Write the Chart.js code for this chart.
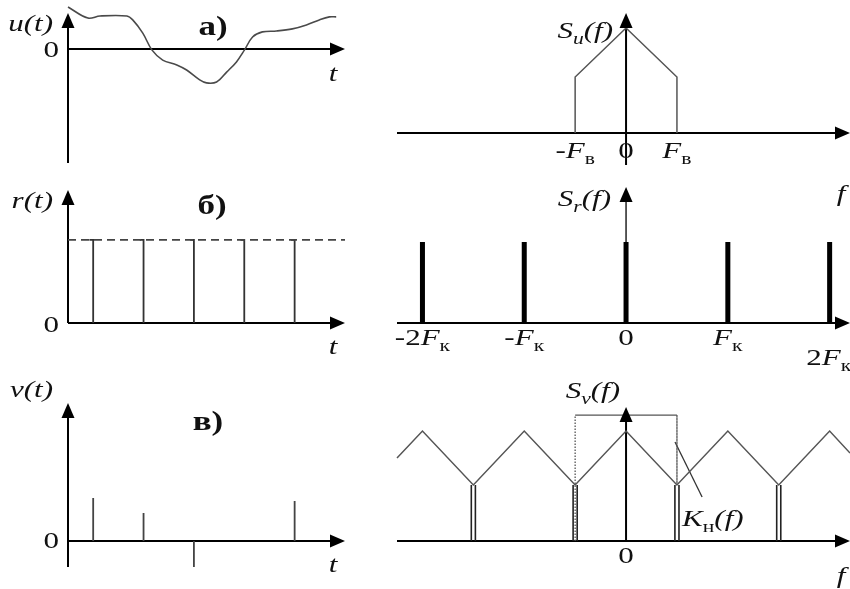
<!DOCTYPE html>
<html><head><meta charset="utf-8">
<script src="https://cdn.jsdelivr.net/npm/chart.js@4.4.0/dist/chart.umd.min.js"></script>
<style>
html,body{margin:0;padding:0;background:#fff;}
#wrap{position:relative;width:850px;height:589px;overflow:hidden;background:#fff;}
#wrap canvas{position:absolute;left:0;top:0;}
</style></head><body>
<div id="wrap">
<canvas id="cA" width="850" height="589"></canvas>
<canvas id="cB" width="850" height="589"></canvas>
<canvas id="cC" width="850" height="589"></canvas>
<canvas id="cD" width="850" height="589"></canvas>
<canvas id="cE" width="850" height="589"></canvas>
<canvas id="cF" width="850" height="589"></canvas>
</div>
<script>
// ---------------- DATA ----------------
// а) message u(t)
const uT   = [0, 0.79, 1.27, 2.34, 2.57, 2.97, 3.33, 3.76, 4.32, 4.71, 5.23, 5.50, 5.90, 6.30, 6.69, 7.01, 7.33, 7.72, 8.28, 8.91, 9.47, 9.98, 10.38, 10.65];
const uVal = [1.40, 1.03, 1.10, 1.10, 0.97, 0.53, -0.03, -0.37, -0.53, -0.70, -1.03, -1.13, -1.10, -0.77, -0.43, -0.03, 0.40, 0.57, 0.60, 0.67, 0.80, 0.97, 1.07, 1.07];
// spectrum S_u(f), frequency in units of F_к
const suF   = [-0.5, -0.5, 0, 0.5, 0.5];
const suVal = [0, 0.533, 1, 0.533, 0];
const suTickF = [-0.5, 0, 0.5];
const suTickLabels = ['-F_{в}', '0', 'F_{в}'];
// б) sampling pulses r(t)
const rT   = [1, 3, 5, 7, 9];
const rVal = [1, 1, 1, 1, 1];
const rLevel = 1;
const rWidth = 0.15;
// spectrum S_r(f)
const srF   = [-2, -1, 0, 1, 2];
const srVal = [1, 1, 1, 1, 1];
const srTickF = [-2, -1, 0, 1];
const srTickLabels = ['-2F_{к}', '-F_{к}', '0', 'F_{к}'];
// в) samples v(t)
const vT   = [1, 3, 5, 9];
const vVal = [4.3, 2.8, -2.6, 4.0];
// spectrum S_v(f)
const svF   = [-2.25, -2, -1.5, -1, -0.5, 0, 0.5, 1, 1.5, 2, 2.2];
const svVal = [0.755, 1, 0.51, 1, 0.51, 1, 0.51, 1, 0.51, 1, 0.80];
const svLineF   = [-1.5, -0.5, 0.5, 1.5];
const svLineVal = [0.51, 0.51, 0.51, 0.51];
const svLineGap = 0.02;
// filter K_н(f)
const knF   = [-0.5, -0.5, 0.5, 0.5];
const knVal = [0, 1.145, 1.145, 0.51];
const knPointerF   = [0.481, 0.747];
const knPointerVal = [0.90, 0.40];

const tAxis = [0, 11];
const fAxis = [-2.25, 2.2];

// ---------------- HELPERS ----------------
const pts = (xs, ys) => xs.map((x, i) => ({x, y: ys[i]}));
function stems(xs, ys, base, dx) {
  const out = [];
  xs.forEach((x, i) => { out.push({x: x + (dx||0), y: base}, {x: x + (dx||0), y: ys[i]}, {x: x + (dx||0), y: null}); });
  return out;
}
function pulses(xs, ys, w) {
  const out = [];
  xs.forEach((x, i) => { out.push({x: x - w, y: ys[i]}, {x, y: ys[i]}, {x, y: 0}, {x, y: null}); });
  return out;
}
const SERIF = '"Liberation Serif","Times New Roman",serif';
const STRETCH = 1.35;
function runs(spec) {
  const segs = []; let i = 0;
  while (i < spec.length) {
    if (spec[i] === '_' && spec[i+1] === '{') {
      const j = spec.indexOf('}', i);
      for (const ch of spec.slice(i+2, j)) segs.push({ch, sub: true});
      i = j + 1;
    } else { segs.push({ch: spec[i], sub: false}); i++; }
  }
  return segs;
}
function drawRich(ctx, spec, x, y, align, size, bold, stretch) {
  const sx = stretch || STRETCH;
  const segs = runs(spec);
  const fontFor = s => {
    const latin = /[A-Za-z()]/.test(s.ch);
    const sz = s.sub ? Math.round(size * 0.68) : size;
    if (bold) return `bold ${sz}px ${SERIF}`;
    return `${latin ? 'italic ' : ''}${sz}px ${SERIF}`;
  };
  let w = 0;
  segs.forEach(s => { ctx.font = fontFor(s); s.w = ctx.measureText(s.ch).width * sx; w += s.w; });
  let cx = align === 'right' ? x - w : align === 'center' ? x - w / 2 : x;
  ctx.fillStyle = '#111';
  ctx.textBaseline = 'alphabetic';
  ctx.textAlign = 'left';
  segs.forEach(s => {
    ctx.font = fontFor(s);
    ctx.save();
    ctx.translate(cx, y + (s.sub ? size * 0.25 : 0));
    ctx.scale(sx, 1);
    ctx.fillText(s.ch, 0, 0);
    ctx.restore();
    cx += s.w;
  });
}
function arrow(ctx, x, y, dir) {
  const L = 15, H = 6.5;
  ctx.beginPath();
  if (dir === 'right') { ctx.moveTo(x, y); ctx.lineTo(x - L, y - H); ctx.lineTo(x - L, y + H); }
  else { ctx.moveTo(x, y); ctx.lineTo(x - H, y + L); ctx.lineTo(x + H, y + L); }
  ctx.closePath(); ctx.fillStyle = '#000'; ctx.fill();
}

const panelPlugin = {
  id: 'panel',
  beforeDatasetsDraw(chart, args, o) {
    const ctx = chart.ctx, xs = chart.scales.x, ys = chart.scales.y;
    ctx.save();
    ctx.strokeStyle = '#000';
    const y0 = ys.getPixelForValue(0);
    ctx.lineWidth = o.xw || 2;
    ctx.beginPath();
    ctx.moveTo(xs.getPixelForValue(o.xAxis[0]), y0);
    ctx.lineTo(xs.getPixelForValue(o.xAxis[1]) - 6, y0);
    ctx.stroke();
    const x0 = xs.getPixelForValue(0);
    ctx.lineWidth = o.yw || 2;
    ctx.beginPath();
    ctx.moveTo(x0, ys.getPixelForValue(o.yAxis[0]));
    ctx.lineTo(x0, ys.getPixelForValue(o.yAxis[1]) + 6);
    ctx.stroke();
    ctx.restore();
  },
  afterDatasetsDraw(chart, args, o) {
    const ctx = chart.ctx, xs = chart.scales.x, ys = chart.scales.y;
    ctx.save();
    arrow(ctx, xs.getPixelForValue(o.xAxis[1]), ys.getPixelForValue(0), 'right');
    arrow(ctx, xs.getPixelForValue(0), ys.getPixelForValue(o.yAxis[1]), 'up');
    (o.ticks || []).forEach(t => {
      t.values.forEach((v, i) => {
        drawRich(ctx, t.labels[i], xs.getPixelForValue(v) + (t.dx || 0), ys.getPixelForValue(0) + t.dy, 'center', 23);
      });
    });
    (o.labels || []).forEach(l => {
      drawRich(ctx, l.text, xs.getPixelForValue(l.at[0]) + l.dx, ys.getPixelForValue(l.at[1]) + l.dy, l.align, l.size || 23, l.bold, l.stretch);
    });
    ctx.restore();
  }
};

function panel(id, area, xr, yr, datasets, opts) {
  return new Chart(document.getElementById(id), {
    type: 'scatter',
    data: { datasets: datasets.map(d => Object.assign({showLine: true, pointRadius: 0, clip: false, fill: false, tension: 0, spanGaps: false}, d)) },
    options: {
      responsive: false, animation: false, devicePixelRatio: 1,
      layout: { padding: { left: area[0], top: area[1], right: 850 - area[2], bottom: 589 - area[3] } },
      scales: {
        x: { type: 'linear', min: xr[0], max: xr[1], display: false },
        y: { type: 'linear', min: yr[0], max: yr[1], display: false }
      },
      plugins: { legend: {display: false}, tooltip: {enabled: false}, panel: opts },
      events: []
    },
    plugins: [panelPlugin]
  });
}

// а) left: u(t)
panel('cA', [68, 7, 345, 163], tAxis, [-3.8, 1.4], [
  { data: pts(uT, uVal), borderColor: '#4a4a4a', borderWidth: 1.6, tension: 0.35 }
], {
  xAxis: tAxis, yAxis: [-3.8, 1.2],
  labels: [
    { text: 'u(t)', at: [0, 1.2], dx: -15, dy: 18, align: 'right' },
    { text: '0', at: [0, 0], dx: -9, dy: 8, align: 'right' },
    { text: 'а)', at: [0, 1.2], dx: 145, dy: 22, align: 'center', bold: true, size: 28, stretch: 1.25 },
    { text: 't', at: [tAxis[1], 0], dx: -12, dy: 32, align: 'center' }
  ]
});

// а) right: S_u(f)
panel('cB', [397, 13, 850, 165], fAxis, [-0.305, 1.143], [
  { data: pts(suF, suVal), borderColor: '#555', borderWidth: 1.5 }
], {
  xAxis: fAxis, yAxis: [-0.305, 1.143],
  ticks: [{ values: suTickF, labels: suTickLabels, dy: 25 }],
  labels: [
    { text: 'S_{u}(f)', at: [0, 1.143], dx: -13, dy: 25, align: 'right' },
    { text: 'f', at: [fAxis[1], 0], dx: -9, dy: 68, align: 'center' }
  ]
});

// б) left: r(t)
panel('cC', [68, 190, 345, 323], tAxis, [0, 1.6], [
  { data: [{x: tAxis[0], y: rLevel}, {x: tAxis[1], y: rLevel}], borderColor: '#444', borderWidth: 1.6, borderDash: [8, 5] },
  { data: pulses(rT, rVal, rWidth), borderColor: '#333', borderWidth: 1.8 }
], {
  xAxis: tAxis, yAxis: [0, 1.6],
  labels: [
    { text: 'r(t)', at: [0, 1.6], dx: -15, dy: 18, align: 'right' },
    { text: '0', at: [0, 0], dx: -9, dy: 9, align: 'right' },
    { text: 'б)', at: [0, 1.6], dx: 144, dy: 24, align: 'center', bold: true, size: 28, stretch: 1.25 },
    { text: 't', at: [tAxis[1], 0], dx: -12, dy: 31, align: 'center' }
  ]
});

// б) right: S_r(f)
panel('cD', [397, 187, 850, 323], fAxis, [0, 1.68], [
  { data: stems(srF, srVal, 0), borderColor: '#000', borderWidth: 5 }
], {
  xAxis: fAxis, yAxis: [0, 1.68], yw: 1.3,
  ticks: [{ values: srTickF, labels: srTickLabels, dy: 22 }],
  labels: [
    { text: 'S_{r}(f)', at: [0, 1.68], dx: -15, dy: 19, align: 'right' },
    { text: '2F_{к}', at: [2, 0], dx: -1, dy: 42, align: 'center' }
  ]
});

// в) left: v(t)
panel('cE', [68, 403, 345, 567], tAxis, [-2.6, 13.8], [
  { data: stems(vT, vVal, 0), borderColor: '#444', borderWidth: 1.8 }
], {
  xAxis: tAxis, yAxis: [-2.6, 13.8],
  labels: [
    { text: 'v(t)', at: [0, 13.8], dx: -15, dy: -6, align: 'right' },
    { text: '0', at: [0, 0], dx: -9, dy: 7, align: 'right' },
    { text: 'в)', at: [0, 13.8], dx: 140, dy: 27, align: 'center', bold: true, size: 28, stretch: 1.25 },
    { text: 't', at: [tAxis[1], 0], dx: -12, dy: 31, align: 'center' }
  ]
});

// в) right: S_v(f)
panel('cF', [397, 407, 850, 541], fAxis, [0, 1.218], [
  { data: pts(svF, svVal), borderColor: '#555', borderWidth: 1.5 },
  { data: stems(svLineF, svLineVal, 0, -svLineGap), borderColor: '#222', borderWidth: 1.6 },
  { data: stems(svLineF, svLineVal, 0, svLineGap), borderColor: '#222', borderWidth: 1.6 },
  { data: pts(knF, knVal), borderColor: '#555', borderWidth: 1.3,
    segment: { borderDash: c => c.p0.parsed.x === c.p1.parsed.x ? [1.5, 1.5] : undefined } },
  { data: pts(knPointerF, knPointerVal), borderColor: '#333', borderWidth: 1.3 }
], {
  xAxis: fAxis, yAxis: [0, 1.218],
  ticks: [{ values: [0], labels: ['0'], dy: 22 }],
  labels: [
    { text: 'S_{v}(f)', at: [0, 1.218], dx: -6, dy: -9, align: 'right' },
    { text: 'K_{н}(f)', at: [knPointerF[1], knPointerVal[1]], dx: -20, dy: 29, align: 'left' },
    { text: 'f', at: [fAxis[1], 0], dx: -9, dy: 42, align: 'center' }
  ]
});
</script>
</body></html>
